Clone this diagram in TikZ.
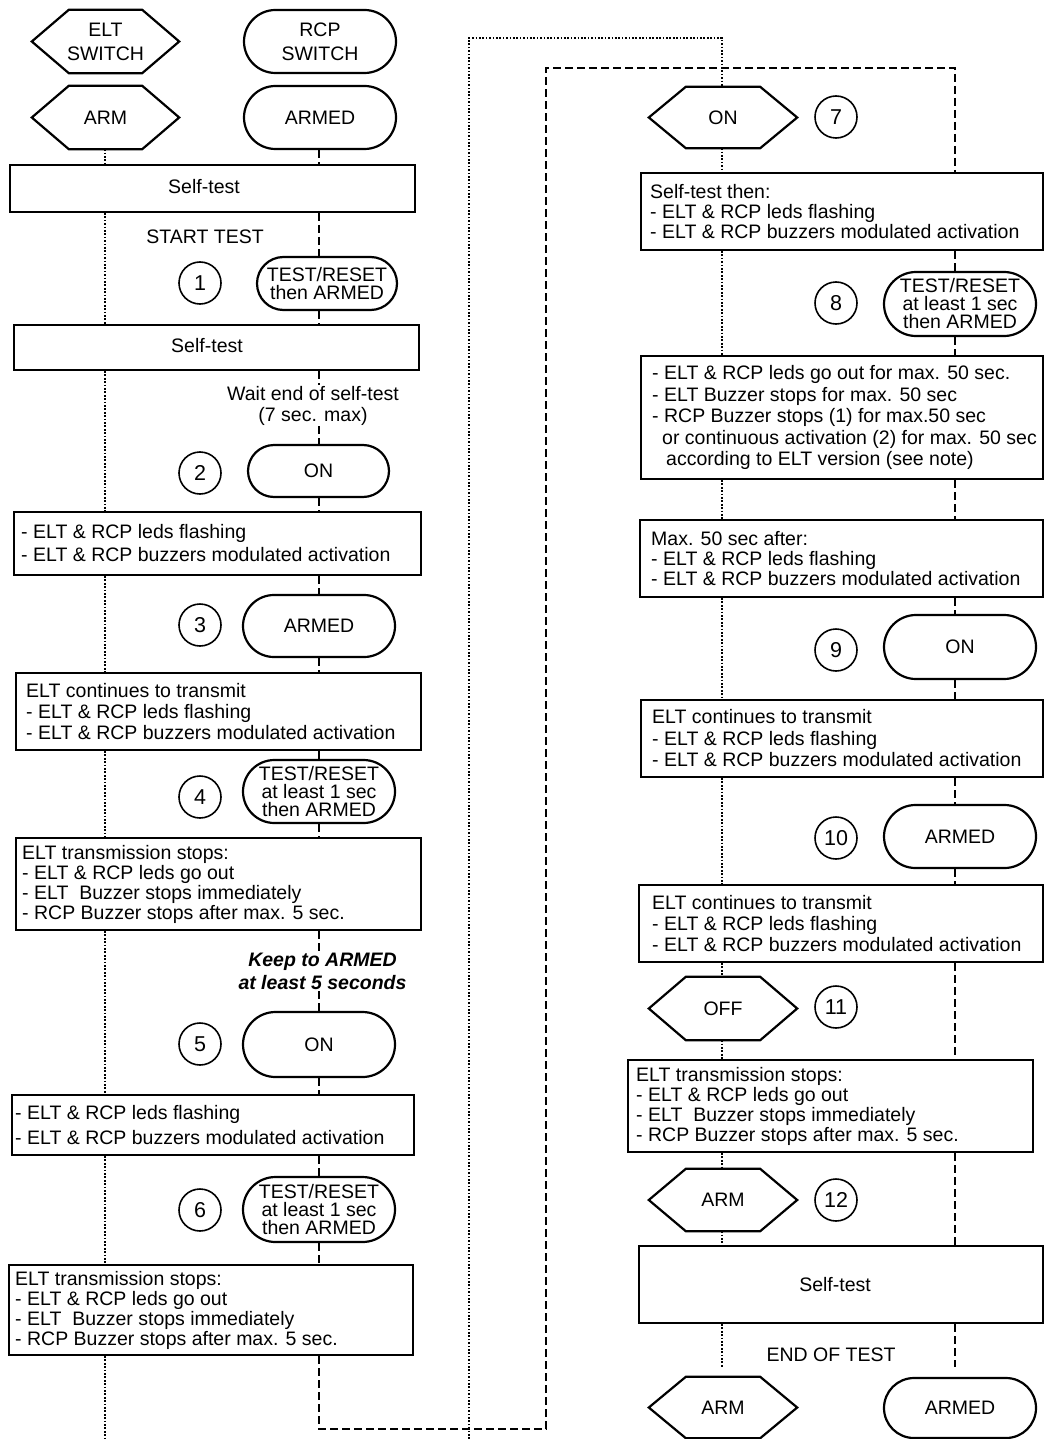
\documentclass[tikz,border=0pt]{standalone}
\usepackage{fontspec}
\setmainfont{Liberation Sans}
\usetikzlibrary{calc}
\newcommand{\fsz}[1]{\fontsize{19.5}{#1}\selectfont}
\tikzset{
  eltlane/.style={line width=1.8pt, dash pattern=on 1.7pt off 1.7pt},
  rcplane/.style={line width=1.8pt, dash pattern=on 8pt off 4pt},
  rbox/.style={draw, line width=2pt, inner sep=0pt},
  btext/.style={align=left, inner sep=0pt, anchor=west},
  stad/.style={draw, line width=2.2pt, inner sep=0pt, align=center},
  hexa/.style={inner sep=0pt, align=center, font=\fsz{24}},
  hexline/.style={line width=2.2pt, line join=miter},
  num/.style={draw, circle, line width=1.6pt, minimum size=42pt, inner sep=0pt, font=\fontsize{21.5}{22}\selectfont},
  free/.style={inner sep=1pt, align=center, font=\fsz{21}},
}
% box: name, left, top, right, bottom
\newcommand{\rb}[5]{\node[rbox, minimum width={(#4-#2)*1pt}, minimum height={(#5-#3)*1pt}] (#1) at ({(#2+#4)/2},{(#3+#5)/2}) {};}
% box text: box name, pad, baselineskip, text
\newcommand{\btxt}[4]{\node[btext, font=\fsz{#3}] (#1t) at ($(#1.west)+(#2,0)$) {#4};}
% stadium: name, cx, cy, w, h, r, skip, text
\newcommand{\stadium}[8]{\node[stad, minimum width=#4pt, minimum height=#5pt, rounded corners=#6pt, font=\fsz{#7}] (#1) at (#2,#3) {#8};}
% hexagon: name, cx, cy, w, h, text
\newcommand{\hexnode}[6]{\node[hexa, minimum width=#4pt, minimum height=#5pt] (#1) at (#2,#3) {#6};
  \draw[hexline] (#1.west) -- ($(#1.north west)+(37,0)$) -- ($(#1.north east)+(-37,0)$) -- (#1.east) -- ($(#1.south east)+(-37,0)$) -- ($(#1.south west)+(37,0)$) -- cycle;}
% number: name, x, y, n
\newcommand{\numc}[4]{\node[num] (#1) at (#2,#3) {#4};}
% lane segment: style, lane coordinate, from, to
\newcommand{\seg}[4]{\draw[#1] (#3 -| #2) -- (#4 -| #2);}
\begin{document}
\begin{tikzpicture}[x=1pt,y=-1pt]
\useasboundingbox (0,0) rectangle (1044,1439);
% ---------------- left column ----------------
\hexnode{eltsw}{105.5}{41.5}{147}{63}{ELT\\SWITCH}
\stadium{rcpsw}{320}{41.5}{152}{63}{31.5}{24}{RCP\\SWITCH}
\hexnode{arm0}{105.5}{117.5}{147}{63}{ARM}
\stadium{armed0}{320}{117.5}{152}{63}{31.5}{18}{ARMED}
\rb{st0}{10}{165}{415}{212}
\node[free] (st0t) at (204,187) {Self-test};
\node[free] (start) at (205,237) {START TEST};
\numc{n1}{200}{283}{1}
\stadium{bub1}{327}{283.5}{140}{53}{26.5}{18}{TEST/RESET\\then ARMED}
\rb{st1}{14}{325}{419}{370}
\node[free] (st1t) at (207,346) {Self-test};
\node[free] (wait) at (313,405.5) {Wait end of self-test\\(7 sec. max)};
\numc{n2}{200}{473}{2}
\stadium{on2}{318.5}{471}{141}{52}{26}{18}{ON}
\rb{b2}{14}{512}{421}{575}
\btxt{b2}{8}{23}{- ELT \& RCP leds flashing\\- ELT \& RCP buzzers modulated activation}
\numc{n3}{200}{625}{3}
\stadium{armed3}{319}{626}{152}{62}{31}{18}{ARMED}
\rb{b3}{16}{673}{421}{750}
\btxt{b3}{11}{21}{ELT continues to transmit\\- ELT \& RCP leds flashing\\- ELT \& RCP buzzers modulated activation}
\numc{n4}{200}{797}{4}
\stadium{bub4}{319}{791.5}{152}{63}{31.5}{18}{TEST/RESET\\at least 1 sec\\then ARMED}
\rb{b4}{16}{838}{421}{930}
\btxt{b4}{7}{20}{ELT transmission stops:\\- ELT \& RCP leds go out\\- ELT\ \ Buzzer stops immediately\\- RCP Buzzer stops after max. 5 sec.}
\node[free, font=\fsz{23}\bfseries\itshape] (keep) at (322.5,971.5) {Keep to ARMED\\at least 5 seconds};
\numc{n5}{200}{1044}{5}
\stadium{on5}{319}{1044.5}{152}{65}{32.5}{18}{ON}
\rb{b5}{12}{1095}{414}{1155}
\btxt{b5}{4}{25}{- ELT \& RCP leds flashing\\- ELT \& RCP buzzers modulated activation}
\numc{n6}{200}{1210}{6}
\stadium{bub6}{319}{1209.5}{152}{65}{32.5}{18}{TEST/RESET\\at least 1 sec\\then ARMED}
\rb{b6}{9}{1265}{413}{1355}
\btxt{b6}{7}{20}{ELT transmission stops:\\- ELT \& RCP leds go out\\- ELT\ \ Buzzer stops immediately\\- RCP Buzzer stops after max. 5 sec.}
% ---------------- right column ----------------
\hexnode{on7}{723}{117.5}{148}{61}{ON}
\numc{n7}{836}{117}{7}
\rb{r0}{641}{173}{1043}{250}
\btxt{r0}{10}{20}{Self-test then:\\- ELT \& RCP leds flashing\\- ELT \& RCP buzzers modulated activation}
\numc{n8}{836}{303}{8}
\stadium{bub8}{960}{304}{152}{64}{32}{18}{TEST/RESET\\at least 1 sec\\then ARMED}
\rb{r1}{641}{356}{1043}{479}
\btxt{r1}{12}{21.5}{- ELT \& RCP leds go out for max. 50 sec.\\- ELT Buzzer stops for max. 50 sec\\- RCP Buzzer stops (1) for max.50 sec\\\hspace*{10pt}or continuous activation (2) for max. 50 sec\\\hspace*{14pt}according to ELT version (see note)}
\rb{r2}{640}{520}{1043}{597}
\btxt{r2}{12}{20}{Max. 50 sec after:\\- ELT \& RCP leds flashing\\- ELT \& RCP buzzers modulated activation}
\numc{n9}{836}{650}{9}
\stadium{on9}{960}{647}{152}{64}{32}{18}{ON}
\rb{r4}{641}{700}{1043}{777}
\btxt{r4}{12}{21.5}{ELT continues to transmit\\- ELT \& RCP leds flashing\\- ELT \& RCP buzzers modulated activation}
\numc{n10}{836}{838}{10}
\stadium{armed10}{960}{836.5}{152}{63}{31.5}{18}{ARMED}
\rb{r5}{639}{885}{1043}{962}
\btxt{r5}{14}{21}{ELT continues to transmit\\- ELT \& RCP leds flashing\\- ELT \& RCP buzzers modulated activation}
\hexnode{off11}{723}{1008.5}{148}{63}{OFF}
\numc{n11}{836}{1007}{11}
\rb{r6}{628}{1060}{1033}{1152}
\btxt{r6}{9}{20}{ELT transmission stops:\\- ELT \& RCP leds go out\\- ELT\ \ Buzzer stops immediately\\- RCP Buzzer stops after max. 5 sec.}
\hexnode{arm12}{723}{1200}{148}{62}{ARM}
\numc{n12}{836}{1200}{12}
\rb{r7}{639}{1246}{1043}{1323}
\node[free] (r7t) at (835,1285) {Self-test};
\node[free] (endt) at (831,1355) {END OF TEST};
\hexnode{armend}{723}{1407.5}{148}{61}{ARM}
\stadium{armedend}{960}{1408}{152}{60}{30}{18}{ARMED}
% ---------------- lane coordinates ----------------
\coordinate (eL) at (105,0);
\coordinate (rL) at (319,0);
\coordinate (eR) at (722,0);
\coordinate (rR) at (955,0);
\coordinate (eLend) at (105,1439);
\coordinate (rLc1) at (319,1429);
\coordinate (rLc2) at (546,1429);
\coordinate (rLc3) at (546,68);
\coordinate (rLc4) at (955,68);
\coordinate (eRb) at (469,1439);
\coordinate (eRc1) at (469,38);
\coordinate (eRc2) at (722,38);
\coordinate (eRend) at (722,1368);
\coordinate (rRend) at (955,1367);
% ---------------- ELT lane (left) ----------------
\seg{eltlane}{eL}{arm0.south}{st0.north}
\seg{eltlane}{eL}{st0.south}{st1.north}
\seg{eltlane}{eL}{st1.south}{b2.north}
\seg{eltlane}{eL}{b2.south}{b3.north}
\seg{eltlane}{eL}{b3.south}{b4.north}
\seg{eltlane}{eL}{b4.south}{b5.north}
\seg{eltlane}{eL}{b5.south}{b6.north}
\draw[eltlane] (b6.south -| eL) -- (eLend);
% ---------------- RCP lane (left) ----------------
\seg{rcplane}{rL}{armed0.south}{st0.north}
\seg{rcplane}{rL}{st0.south}{bub1.north}
\seg{rcplane}{rL}{bub1.south}{st1.north}
\seg{rcplane}{rL}{st1.south}{wait.north}
\seg{rcplane}{rL}{wait.south}{on2.north}
\seg{rcplane}{rL}{on2.south}{b2.north}
\seg{rcplane}{rL}{b2.south}{armed3.north}
\seg{rcplane}{rL}{armed3.south}{b3.north}
\seg{rcplane}{rL}{b3.south}{bub4.north}
\seg{rcplane}{rL}{bub4.south}{b4.north}
\seg{rcplane}{rL}{b4.south}{keep.north}
\seg{rcplane}{rL}{keep.south}{on5.north}
\seg{rcplane}{rL}{on5.south}{b5.north}
\seg{rcplane}{rL}{b5.south}{bub6.north}
\seg{rcplane}{rL}{bub6.south}{b6.north}
\draw[rcplane] (b6.south -| rL) -- (rLc1) -- (rLc2) -- (rLc3) -- (rLc4) -- (r0.north -| rR);
% ---------------- ELT lane (right) ----------------
\draw[eltlane] (eRb) -- (eRc1) -- (eRc2) -- (on7.north -| eR);
\seg{eltlane}{eR}{on7.south}{r0.north}
\seg{eltlane}{eR}{r0.south}{r1.north}
\seg{eltlane}{eR}{r1.south}{r2.north}
\seg{eltlane}{eR}{r2.south}{r4.north}
\seg{eltlane}{eR}{r4.south}{r5.north}
\seg{eltlane}{eR}{r5.south}{off11.north}
\seg{eltlane}{eR}{off11.south}{r6.north}
\seg{eltlane}{eR}{r6.south}{arm12.north}
\seg{eltlane}{eR}{arm12.south}{r7.north}
\draw[eltlane] (r7.south -| eR) -- (eRend);
% ---------------- RCP lane (right) ----------------
\seg{rcplane}{rR}{r0.south}{bub8.north}
\seg{rcplane}{rR}{bub8.south}{r1.north}
\seg{rcplane}{rR}{r1.south}{r2.north}
\seg{rcplane}{rR}{r2.south}{on9.north}
\seg{rcplane}{rR}{on9.south}{r4.north}
\seg{rcplane}{rR}{r4.south}{armed10.north}
\seg{rcplane}{rR}{armed10.south}{r5.north}
\seg{rcplane}{rR}{r5.south}{r6.north}
\seg{rcplane}{rR}{r6.south}{r7.north}
\draw[rcplane] (r7.south -| rR) -- (rRend);
\end{tikzpicture}
\end{document}
